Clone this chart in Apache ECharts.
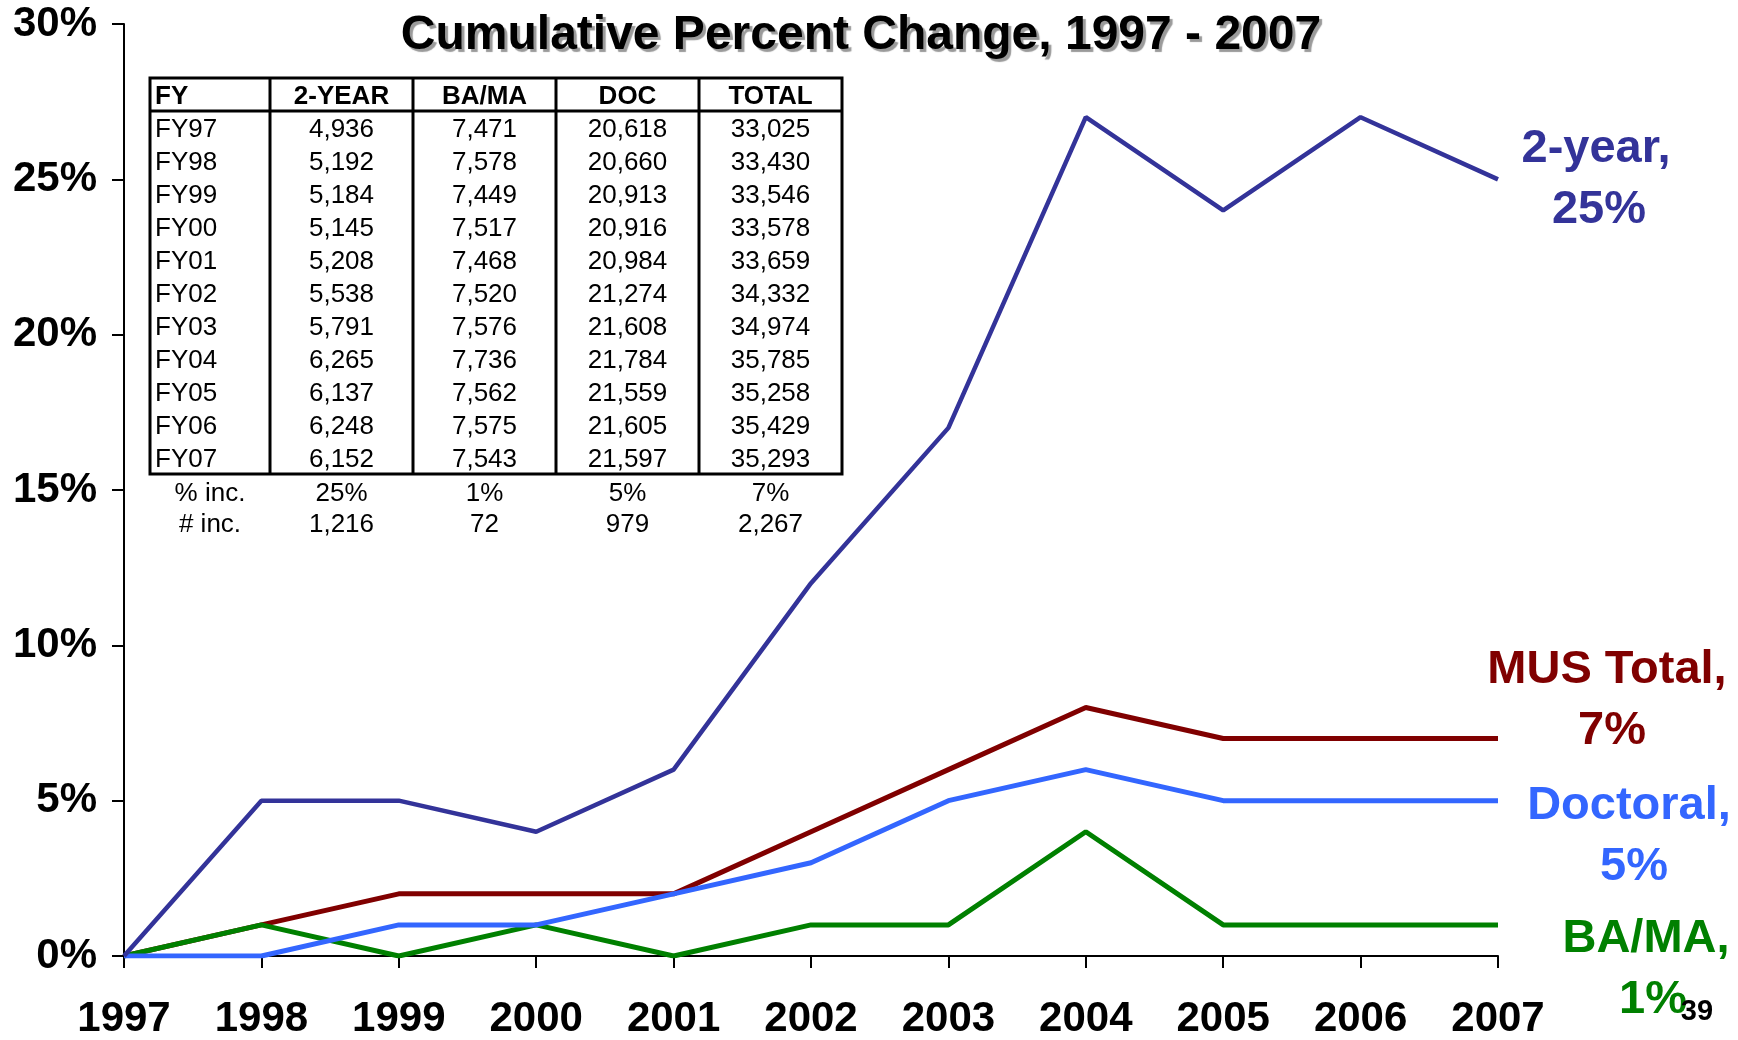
<!DOCTYPE html>
<html>
<head>
<meta charset="utf-8">
<script src="https://cdn.jsdelivr.net/npm/echarts@6/dist/echarts.min.js"></script>
<style>
html,body{margin:0;padding:0;background:#fff;}
#chart{width:1738px;height:1040px;}
</style>
</head>
<body>
<div id="chart"></div>
<script>
// ---- data ----
var years = ['1997','1998','1999','2000','2001','2002','2003','2004','2005','2006','2007'];
var pctTwoYear = [0, 5, 5, 4, 6, 12, 17, 27, 24, 27, 25];
var pctTotal   = [0, 1, 2, 2, 2, 4, 6, 8, 7, 7, 7];
var pctDoc     = [0, 0, 1, 1, 2, 3, 5, 6, 5, 5, 5];
var pctBama    = [0, 1, 0, 1, 0, 1, 1, 4, 1, 1, 1];
var yTicks = [0, 5, 10, 15, 20, 25, 30];

var tableHeader = ['FY', '2-YEAR', 'BA/MA', 'DOC', 'TOTAL'];
var fyLabels = ['FY97','FY98','FY99','FY00','FY01','FY02','FY03','FY04','FY05','FY06','FY07'];
var hcTwoYear = ['4,936','5,192','5,184','5,145','5,208','5,538','5,791','6,265','6,137','6,248','6,152'];
var hcBama    = ['7,471','7,578','7,449','7,517','7,468','7,520','7,576','7,736','7,562','7,575','7,543'];
var hcDoc     = ['20,618','20,660','20,913','20,916','20,984','21,274','21,608','21,784','21,559','21,605','21,597'];
var hcTotal   = ['33,025','33,430','33,546','33,578','33,659','34,332','34,974','35,785','35,258','35,429','35,293'];
var pctIncRow = ['% inc.', '25%', '1%', '5%', '7%'];
var numIncRow = ['# inc.', '1,216', '72', '979', '2,267'];

var titleText = 'Cumulative Percent Change, 1997 - 2007';
var pageNumber = '39';

// ---- styling ----
var FONT = '"Liberation Sans", Arial, Helvetica, sans-serif';
var C_TWO = '#333399', C_TOT = '#800000', C_DOC = '#3366FF', C_BA = '#008000';

// ---- table graphic ----
var colX = [150, 270, 413, 556, 699, 842];
var tTop = 78, rowH = 33;
var g = [];
var nRows = fyLabels.length;
var tBottom = tTop + rowH * (nRows + 1);
g.push({type:'rect', shape:{x:colX[0], y:tTop, width:colX[5]-colX[0], height:tBottom-tTop},
  style:{fill:'none', stroke:'#000', lineWidth:3}, z:10});
g.push({type:'line', shape:{x1:colX[0], y1:tTop+rowH, x2:colX[5], y2:tTop+rowH},
  style:{stroke:'#000', lineWidth:3}, z:10});
for (var c = 1; c < 5; c++) {
  g.push({type:'line', shape:{x1:colX[c], y1:tTop, x2:colX[c], y2:tBottom},
    style:{stroke:'#000', lineWidth:3}, z:10});
}
function cellText(col, yc, txt, bold, leftAlign) {
  g.push({type:'text', z:11,
    x: leftAlign ? colX[col] + 5 : (colX[col] + colX[col+1]) / 2,
    y: yc,
    style:{text:txt, fill:'#000', font:(bold?'bold ':'') + '26px ' + FONT,
      textAlign: leftAlign ? 'left' : 'center', textVerticalAlign:'middle'}});
}
for (var c2 = 0; c2 < 5; c2++) cellText(c2, tTop + rowH/2 + 2, tableHeader[c2], true, c2 === 0);
var cols = [fyLabels, hcTwoYear, hcBama, hcDoc, hcTotal];
for (var r = 0; r < nRows; r++) {
  var yc = tTop + rowH * (r + 1) + rowH / 2 + 2;
  for (var c3 = 0; c3 < 5; c3++) cellText(c3, yc, cols[c3][r], false, c3 === 0);
}
for (var c4 = 0; c4 < 5; c4++) {
  cellText(c4, tBottom + 20, pctIncRow[c4], false, false);
  cellText(c4, tBottom + 51, numIncRow[c4], false, false);
}

// ---- title + end labels ----
g.push({type:'text', z:12, x:861, y:36,
  style:{text:titleText, fill:'#000', font:'bold 48px ' + FONT, textAlign:'center', textVerticalAlign:'middle',
    textShadowColor:'#9a9a9a', textShadowOffsetX:3, textShadowOffsetY:3, textShadowBlur:1}});

function endLabel(lines, color) {
  lines.forEach(function(l){
    g.push({type:'text', z:12, x:l[1], y:l[2],
      style:{text:l[0], fill:color, font:'bold 47px ' + FONT, textAlign:'center', textVerticalAlign:'middle'}});
  });
}
var last = years.length - 1;
endLabel([['2-year,', 1596, 149], [pctTwoYear[last] + '%', 1599, 210]], C_TWO);
endLabel([['MUS Total,', 1607, 670], [pctTotal[last] + '%', 1612, 731]], C_TOT);
endLabel([['Doctoral,', 1629, 806], [pctDoc[last] + '%', 1634, 867]], C_DOC);
endLabel([['BA/MA,', 1646, 939], [pctBama[last] + '%', 1653, 1000]], C_BA);
g.push({type:'text', z:13, x:1697, y:1012,
  style:{text:pageNumber, fill:'#000', font:'bold 29px ' + FONT, textAlign:'center', textVerticalAlign:'middle'}});

var chart = echarts.init(document.getElementById('chart'), null, {renderer:'canvas'});
chart.setOption({
  backgroundColor:'#ffffff',
  animation:false,
  grid:{left:124, right:240, top:24, bottom:79, containLabel:false},
  xAxis:{
    type:'category', data:years, boundaryGap:false,
    axisLine:{lineStyle:{color:'#000', width:2}},
    axisTick:{show:true, length:12, inside:false, alignWithLabel:true, lineStyle:{color:'#000', width:2}},
    axisLabel:{color:'#000', fontFamily:FONT, fontWeight:'bold', fontSize:42, margin:42, interval:0},
    splitLine:{show:false}
  },
  yAxis:{
    type:'value', min:yTicks[0], max:yTicks[yTicks.length-1], interval:yTicks[1]-yTicks[0],
    axisLine:{show:true, lineStyle:{color:'#000', width:2}},
    axisTick:{show:true, length:12, inside:false, lineStyle:{color:'#000', width:2}},
    axisLabel:{color:'#000', fontFamily:FONT, fontWeight:'bold', fontSize:42, margin:27, formatter:'{value}%'},
    splitLine:{show:false}
  },
  series:[
    {name:'MUS Total', type:'line', data:pctTotal, symbol:'none', lineStyle:{color:C_TOT, width:5}, z:2},
    {name:'BA/MA', type:'line', data:pctBama, symbol:'none', lineStyle:{color:C_BA, width:5}, z:3},
    {name:'Doctoral', type:'line', data:pctDoc, symbol:'none', lineStyle:{color:C_DOC, width:5}, z:4},
    {name:'2-year', type:'line', data:pctTwoYear, symbol:'none', lineStyle:{color:C_TWO, width:4.5}, z:5}
  ],
  graphic:g
});
</script>
</body>
</html>
